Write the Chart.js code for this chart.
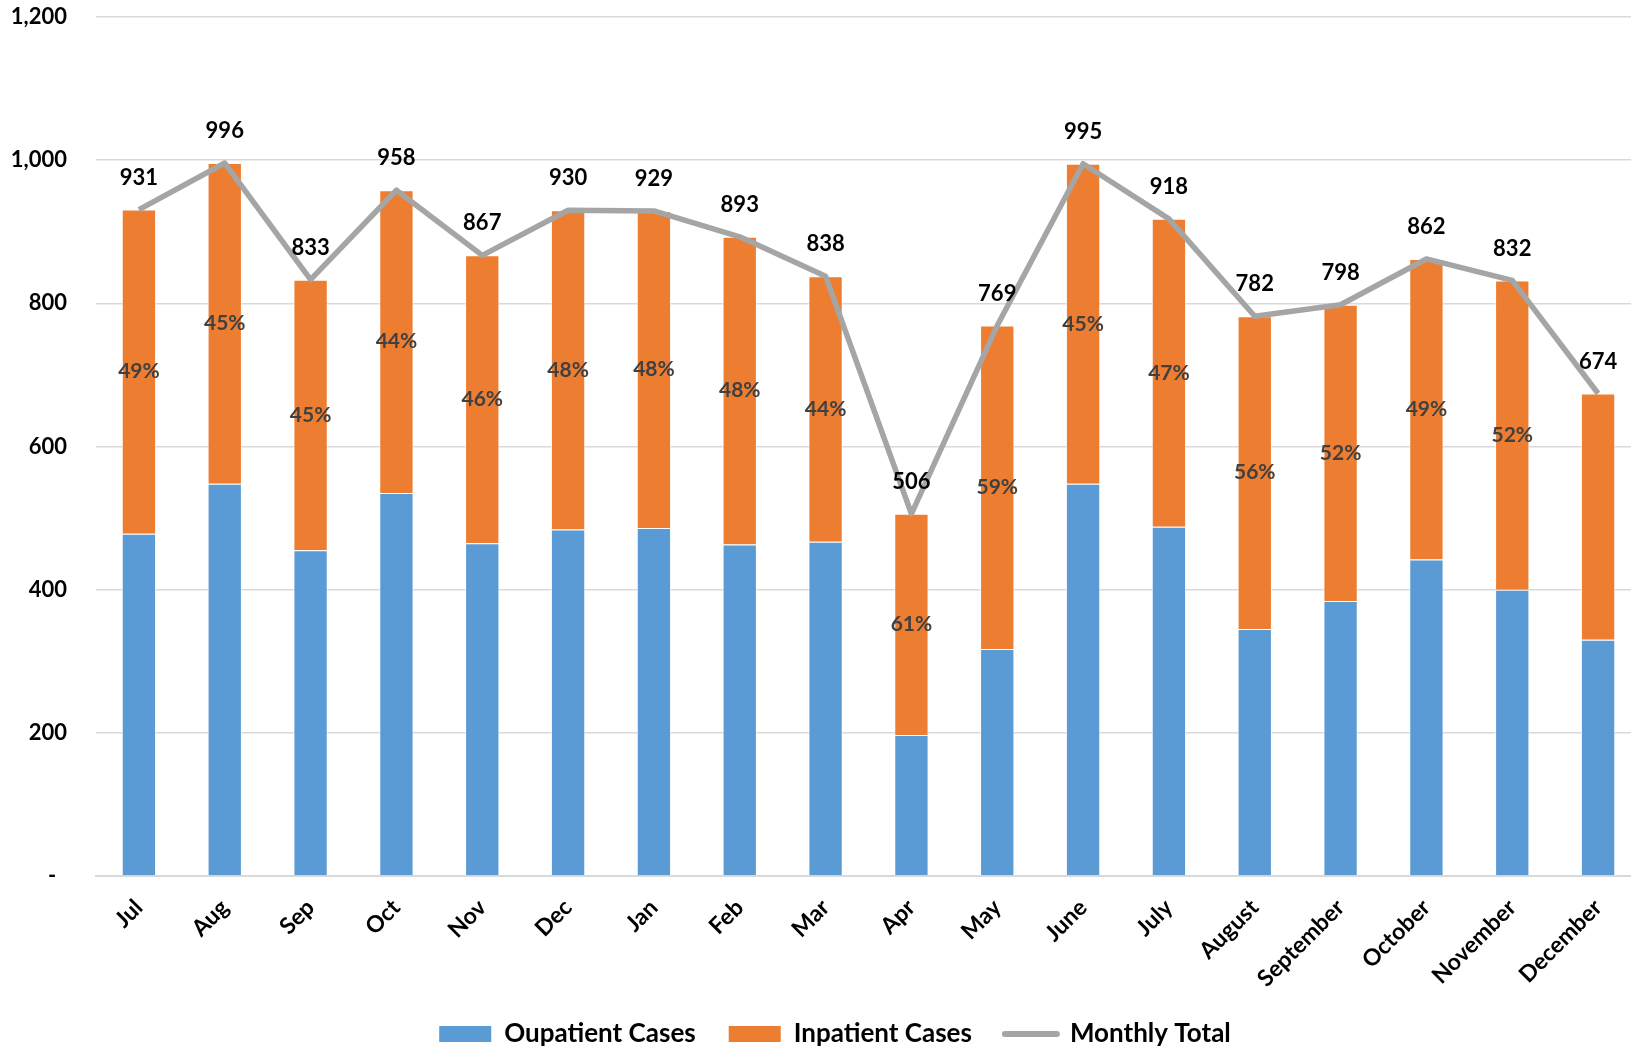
<!DOCTYPE html>
<html>
<head>
<meta charset="utf-8">
<script src="https://cdn.jsdelivr.net/npm/chart.js@4.4.1/dist/chart.umd.min.js"></script>
<style>
  html, body { margin: 0; padding: 0; background: #fff; overflow: hidden; }
  #wrap { width: 1670px; height: 1057px; }
</style>
</head>
<body>
<div id="wrap"><canvas id="chart" width="1670" height="1057"></canvas></div>
<script>
'use strict'

// months, as on the axis
var months = ['Jul', 'Aug', 'Sep', 'Oct', 'Nov', 'Dec', 'Jan', 'Feb', 'Mar', 'Apr', 'May',
  'June', 'July', 'August', 'September', 'October', 'November', 'December'];

// case counts
var outpatient = [478, 548, 455, 535, 465, 484, 486, 463, 467, 197, 317, 548, 488, 345, 384, 442, 400, 330];
var inpatient  = [453, 448, 378, 423, 402, 446, 443, 430, 371, 309, 452, 447, 430, 437, 414, 420, 432, 344];
var totals     = [931, 996, 833, 958, 867, 930, 929, 893, 838, 506, 769, 995, 918, 782, 798, 862, 832, 674];

// inpatient share labels (last month has none)
var inpatientPct = [49, 45, 45, 44, 46, 48, 48, 48, 44, 61, 59, 45, 47, 56, 52, 49, 52, null];

var yTicks = [0, 200, 400, 600, 800, 1000, 1200];

var FONT = 'Lato, "Open Sans", sans-serif';
var BLUE = '#5b9bd5';
var ORANGE = '#ed7d31';
var GREY = '#a5a5a5';
var H = 1057;      // canvas height (a little taller than the window)
var AXIS_Y = 876;  // where the x axis sits
var SIDE = 29;     // side padding, keeps the legend centred like the original

function noClip() { return undefined; }

//------------- labels on bars and line ------------- //
var valueLabels = {
  id: 'valueLabels',
  afterDatasetsDraw: function(chart) {
    var c = chart.ctx;
    c.save();
    c.textAlign = 'center';
    c.textBaseline = 'middle';

    // percentages in the middle of the inpatient segment
    c.font = 'bold 21px ' + FONT;
    c.fillStyle = '#404040';
    chart.getDatasetMeta(1).data.forEach(function(bar, i) {
      if (inpatientPct[i] == null) return;
      c.fillText(inpatientPct[i] + '%', bar.x, (bar.y + bar.base) / 2);
    });

    // totals above the line points
    c.font = 'bold 22px ' + FONT;
    c.fillStyle = '#000';
    chart.getDatasetMeta(2).data.forEach(function(pt, i) {
      c.fillText(totals[i], pt.x, pt.y - 32);
    });
    c.restore();
  }
};

function initChart() {
  var ctx = document.getElementById('chart').getContext('2d');

  var myChart = new Chart(ctx, {
    type: 'bar',
    data: {
      labels: months,
      datasets: [{
        label: 'Oupatient Cases',
        data: outpatient,
        backgroundColor: BLUE,
        borderColor: 'rgba(255,255,255,0.7)',
        borderWidth: 1,
        stack: 'cases',
        order: 1
      }, {
        label: 'Inpatient Cases',
        data: inpatient,
        backgroundColor: ORANGE,
        borderColor: 'rgba(255,255,255,0.7)',
        borderWidth: 1,
        stack: 'cases',
        order: 1
      }, {
        type: 'line',
        label: 'Monthly Total',
        data: totals,
        borderColor: GREY,
        backgroundColor: GREY,
        borderWidth: 5.5,
        borderJoinStyle: 'round',
        pointRadius: 0,
        tension: 0,
        fill: false,
        stack: 'total',
        order: 0
      }]
    },
    options: {
      responsive: false,
      animation: false,
      events: [],
      layout: { padding: { top: 17, right: SIDE, left: SIDE, bottom: 0 } },
      datasets: {
        bar: { categoryPercentage: 1.0, barPercentage: 0.4 }
      },
      scales: {
        x: {
          stacked: true,
          grid: { display: false, drawTicks: false },
          border: { display: true, color: '#d9d9d9', width: 2 },
          ticks: {
            color: '#000',
            font: { family: FONT, size: 23, weight: 'bold' },
            minRotation: 45,
            maxRotation: 45,
            padding: 18,
            autoSkip: false
          },
          afterFit: function(scale) {
            scale.height = H - AXIS_Y - scale.chart.legend.height;
            // long month names run a little into the legend band, don't clip them
            scale._computeLabelArea = noClip;
          }
        },
        y: {
          stacked: true,
          min: 0,
          max: 1200,
          afterBuildTicks: function(scale) {
            scale.ticks = yTicks.map(function(v) { return { value: v }; });
          },
          grid: { color: '#d9d9d9', lineWidth: 1.5, drawTicks: false },
          border: { display: false },
          ticks: {
            color: '#000',
            font: { family: FONT, size: 22, weight: 'bold' },
            padding: 29,
            callback: function(v) {
              return v === 0 ? '-  ' : v.toLocaleString('en-US');
            }
          },
          afterFit: function(scale) {
            scale.width = 96 - SIDE;
            scale.paddingTop = 0;
            scale.paddingBottom = 0;
            scale._computeLabelArea = noClip;
          }
        }
      },
      plugins: {
        tooltip: { enabled: false },
        legend: {
          position: 'bottom',
          labels: {
            usePointStyle: true,
            pointStyleWidth: 52,
            boxHeight: 16,
            padding: 33,
            color: '#000',
            font: { family: FONT, size: 26, weight: 'bold' },
            generateLabels: function(chart) {
              return [
                { text: 'Oupatient Cases', fillStyle: BLUE, strokeStyle: BLUE, lineWidth: 0, pointStyle: 'rect', datasetIndex: 0 },
                { text: 'Inpatient Cases', fillStyle: ORANGE, strokeStyle: ORANGE, lineWidth: 0, pointStyle: 'rect', datasetIndex: 1 },
                { text: 'Monthly Total', fillStyle: GREY, strokeStyle: GREY, lineWidth: 6, lineCap: 'round', pointStyle: 'line', datasetIndex: 2 }
              ];
            }
          }
        }
      }
    },
    plugins: [valueLabels]
  });
  return myChart;
}

initChart();
</script>
</body>
</html>
